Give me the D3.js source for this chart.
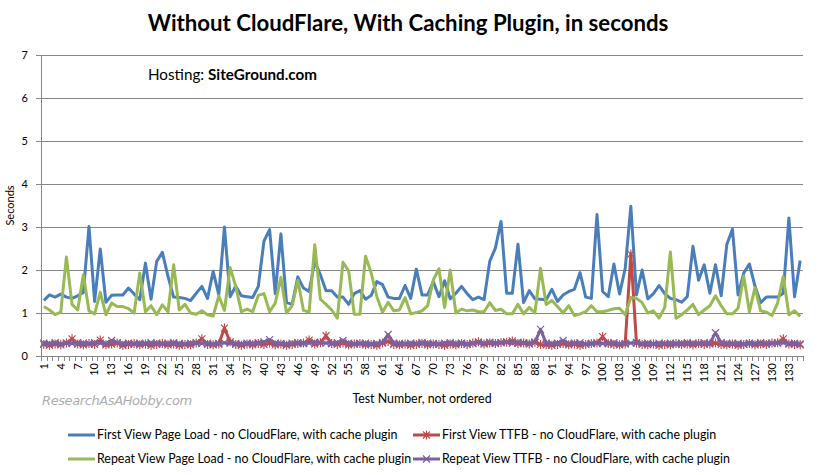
<!DOCTYPE html>
<html><head><meta charset="utf-8">
<script src="https://cdn.jsdelivr.net/npm/d3@7"></script>
<style>
body{margin:0;background:#fff;}
svg{display:block;font-family:Lato,"Open Sans",sans-serif;}
</style></head><body>
<svg id="c" width="818" height="475"></svg>
<script>
const categories = d3.range(1, 136).map(String);
const tickLabels = categories.filter((c, i) => i % 3 === 0);
const yTicks = [0,1,2,3,4,5,6,7];
const seriesNames = [
  "First View Page Load - no CloudFlare, with cache plugin",
  "First View TTFB - no CloudFlare, with cache plugin",
  "Repeat View Page Load - no CloudFlare, with cache plugin",
  "Repeat View TTFB - no CloudFlare, with cache plugin"
];
const firstViewLoad = [
1.29,1.42,1.37,1.44,1.37,1.34,1.40,1.48,3.01,1.27,
2.49,1.25,1.41,1.42,1.42,1.58,1.44,1.31,2.16,1.32,
2.20,2.41,1.85,1.37,1.36,1.34,1.29,1.46,1.62,1.34,
1.97,1.42,3.00,1.38,1.62,1.40,1.38,1.36,1.62,2.67,
2.94,1.45,2.84,1.24,1.20,1.84,1.58,1.50,2.20,1.89,
1.52,1.52,1.37,1.37,1.20,1.45,1.52,1.32,1.41,1.73,
1.66,1.37,1.34,1.34,1.64,1.34,2.02,1.42,1.42,1.73,
1.38,1.75,1.33,1.46,1.62,1.45,1.31,1.37,1.31,2.20,
2.51,3.13,1.46,1.46,2.60,1.24,1.52,1.33,1.32,1.31,
1.55,1.27,1.42,1.50,1.55,1.94,1.37,1.34,3.29,1.50,
1.38,2.14,1.44,2.04,3.48,1.42,2.00,1.33,1.45,1.64,
1.45,1.34,1.31,1.25,1.38,2.55,1.76,2.12,1.46,2.12,
1.40,2.59,2.95,1.42,1.93,2.14,1.62,1.24,1.37,1.37,
1.37,1.46,3.21,1.38,2.22];
const firstViewTTFB = [
0.27,0.25,0.28,0.26,0.30,0.40,0.28,0.26,0.29,0.27,
0.37,0.26,0.28,0.30,0.25,0.27,0.29,0.26,0.28,0.25,
0.27,0.29,0.26,0.28,0.25,0.27,0.26,0.30,0.40,0.27,
0.26,0.28,0.65,0.33,0.27,0.25,0.28,0.26,0.29,0.27,
0.30,0.26,0.28,0.25,0.27,0.29,0.30,0.37,0.28,0.31,
0.47,0.29,0.27,0.30,0.26,0.28,0.29,0.26,0.27,0.25,
0.30,0.34,0.27,0.26,0.28,0.25,0.27,0.29,0.26,0.28,
0.27,0.25,0.28,0.26,0.29,0.27,0.30,0.33,0.28,0.30,
0.29,0.31,0.32,0.35,0.29,0.30,0.28,0.32,0.27,0.26,
0.25,0.27,0.29,0.26,0.28,0.25,0.27,0.29,0.30,0.45,
0.29,0.27,0.26,0.28,2.37,0.30,0.27,0.26,0.28,0.25,
0.27,0.26,0.29,0.27,0.28,0.26,0.29,0.27,0.28,0.30,
0.27,0.26,0.28,0.25,0.27,0.29,0.26,0.28,0.27,0.30,
0.31,0.40,0.28,0.27,0.26];
const repeatViewLoad = [
1.15,1.07,0.96,1.02,2.30,1.20,1.07,1.89,1.05,0.98,
1.48,0.96,1.23,1.15,1.15,1.10,1.00,1.93,1.03,1.17,
0.96,1.19,1.03,2.12,1.07,1.20,1.00,0.97,1.05,0.96,
0.93,1.40,1.06,2.06,1.62,1.03,1.09,1.03,1.41,1.45,
1.03,1.23,1.83,1.00,1.17,1.76,1.06,1.02,2.59,1.32,
1.20,1.07,0.88,2.18,1.98,0.97,0.97,2.32,1.93,1.38,
1.02,1.25,1.05,1.07,1.36,0.98,1.01,1.05,1.17,1.77,
2.03,1.13,2.00,1.00,1.09,1.05,1.07,1.03,1.03,1.24,
1.06,1.09,0.98,0.98,1.20,0.98,1.13,1.00,2.04,1.20,
1.29,1.15,1.00,1.17,0.94,0.98,1.03,1.17,1.03,1.03,
1.06,1.10,1.11,0.96,1.36,1.34,1.24,1.00,1.05,0.88,
1.13,2.42,0.88,0.96,1.07,1.20,0.96,1.07,1.17,1.40,
1.17,0.98,0.98,1.11,1.86,1.03,1.59,1.05,1.02,0.94,
1.23,1.85,0.96,1.05,0.92];
const repeatViewTTFB = [
0.30,0.29,0.31,0.28,0.30,0.29,0.31,0.30,0.28,0.31,
0.30,0.29,0.36,0.31,0.29,0.30,0.28,0.30,0.29,0.31,
0.30,0.28,0.30,0.31,0.29,0.28,0.30,0.31,0.29,0.30,
0.28,0.29,0.31,0.30,0.29,0.28,0.30,0.29,0.31,0.33,
0.38,0.30,0.29,0.28,0.30,0.31,0.29,0.30,0.32,0.31,
0.30,0.29,0.31,0.36,0.30,0.28,0.29,0.30,0.28,0.29,
0.31,0.50,0.30,0.29,0.28,0.30,0.29,0.31,0.30,0.29,
0.28,0.30,0.31,0.29,0.30,0.28,0.29,0.31,0.30,0.32,
0.30,0.31,0.33,0.30,0.32,0.31,0.30,0.32,0.62,0.30,
0.29,0.30,0.36,0.29,0.30,0.31,0.28,0.29,0.30,0.29,
0.30,0.31,0.28,0.29,0.30,0.31,0.29,0.30,0.28,0.30,
0.29,0.30,0.28,0.30,0.31,0.30,0.29,0.31,0.30,0.54,
0.31,0.30,0.29,0.30,0.28,0.30,0.29,0.31,0.30,0.29,
0.30,0.31,0.29,0.30,0.28];

const colors = ["#4a7ebb", "#be4b48", "#98b954", "#7d60a0"];
const series = [
  {name: seriesNames[0], values: firstViewLoad, color: colors[0], width: 3, marker: null},
  {name: seriesNames[1], values: firstViewTTFB, color: colors[1], width: 3, marker: "star"},
  {name: seriesNames[2], values: repeatViewLoad, color: colors[2], width: 3, marker: null},
  {name: seriesNames[3], values: repeatViewTTFB, color: colors[3], width: 3, marker: "x"}
];

const svg = d3.select("#c");
const L = 41, R = 803, T = 55, B = 356;
const x = d3.scaleBand().domain(categories).range([L, R]).padding(0);
const y = d3.scaleLinear().domain([0, 7]).range([B, T]);
const bw = x.bandwidth();
const cx = c => x(c) + bw / 2;

// title
svg.append("text").attr("x", 408).attr("y", 31).attr("text-anchor", "middle")
  .attr("font-size", 22.2).attr("font-weight", "bold").attr("fill", "#000")
  .text("Without CloudFlare, With Caching Plugin, in seconds");

// gridlines
svg.append("g").selectAll("line").data(yTicks.filter(t => t > 0)).join("line")
  .attr("x1", L).attr("x2", R).attr("y1", d => y(d)).attr("y2", d => y(d))
  .attr("stroke", "#868686").attr("stroke-width", 1).attr("shape-rendering", "crispEdges");

// y axis
const yAxis = svg.append("g").attr("transform", `translate(${L},0)`)
  .call(d3.axisLeft(y).tickValues(yTicks).tickSize(5).tickPadding(8).tickFormat(d3.format("d")));
yAxis.select(".domain").attr("stroke", "#868686").attr("shape-rendering", "crispEdges");
yAxis.selectAll(".tick line").attr("stroke", "#868686").attr("shape-rendering", "crispEdges");
yAxis.selectAll("text").attr("font-size", 11).attr("font-family", "Lato").attr("fill", "#000");

svg.append("text").attr("transform", `translate(14,${(T + B) / 2}) rotate(-90)`)
  .attr("text-anchor", "middle").attr("font-size", 11).attr("fill", "#000").text("Seconds");

// x axis
const xAxis = svg.append("g").attr("transform", `translate(0,${B})`)
  .call(d3.axisBottom(x).tickValues(tickLabels).tickSize(0).tickPadding(0));
xAxis.select(".domain").attr("stroke", "#868686").attr("shape-rendering", "crispEdges");
xAxis.selectAll(".tick text")
  .attr("transform", "rotate(-90)").attr("text-anchor", "end")
  .attr("x", -7).attr("y", 0).attr("dy", "0.35em")
  .attr("font-size", 11).attr("font-family", "Lato").attr("fill", "#000");
// category boundary tick marks
const bounds = categories.map(c => x(c)).concat([R]);
svg.append("g").selectAll("line").data(bounds).join("line")
  .attr("x1", d => Math.round(d) + 0.5).attr("x2", d => Math.round(d) + 0.5)
  .attr("y1", B).attr("y2", B + 5).attr("stroke", "#868686");

svg.append("text").attr("x", 422).attr("y", 403).attr("text-anchor", "middle")
  .attr("font-size", 12.4).attr("fill", "#000").text("Test Number, not ordered");

svg.append("text").attr("x", 42).attr("y", 405).attr("font-size", 13)
  .attr("font-style", "italic").attr("fill", "#adadad").attr("font-family", "DejaVu Sans")
  .attr("letter-spacing", -0.4).text("ResearchAsAHobby.com");

// hosting text
const ht = svg.append("text").attr("x", 148).attr("y", 80).attr("font-size", 15.2).attr("fill", "#000");
ht.append("tspan").text("Hosting: ");
ht.append("tspan").attr("font-weight", "bold").text("SiteGround.com");

// lines
const line = d3.line().x((d, i) => cx(categories[i])).y(d => y(d));
function markerPath(type, px, py, s) {
  if (type === "x") return `M${px - s},${py - s}L${px + s},${py + s}M${px - s},${py + s}L${px + s},${py - s}`;
  return `M${px - s},${py - s}L${px + s},${py + s}M${px - s},${py + s}L${px + s},${py - s}M${px},${py - s - 1}L${px},${py + s + 1}`;
}
series.forEach(s => {
  const g = svg.append("g");
  g.append("path").datum(s.values).attr("d", line).attr("fill", "none")
    .attr("stroke", s.color).attr("stroke-width", s.width).attr("stroke-linejoin", "round");
  if (s.marker) {
    g.selectAll("path.m").data(s.values).join("path").attr("class", "m")
      .attr("d", (d, i) => markerPath(s.marker, cx(categories[i]), y(d), 3.5))
      .attr("stroke", s.color).attr("stroke-width", 1.2).attr("fill", "none");
  }
});

// legend
const legendPos = [[68, 435], [413, 435], [68, 459], [413, 459]];
series.forEach((s, i) => {
  const [lx, ly] = legendPos[i];
  const g = svg.append("g");
  g.append("line").attr("x1", lx).attr("x2", lx + 27).attr("y1", ly).attr("y2", ly)
    .attr("stroke", s.color).attr("stroke-width", 3);
  if (s.marker) g.append("path").attr("d", markerPath(s.marker, lx + 13.5, ly, 3.5))
    .attr("stroke", s.color).attr("stroke-width", 1.2).attr("fill", "none");
  g.append("text").attr("x", lx + 29).attr("y", ly + 4).attr("font-size", 12.4).attr("fill", "#000").text(s.name);
});
</script></body></html>
